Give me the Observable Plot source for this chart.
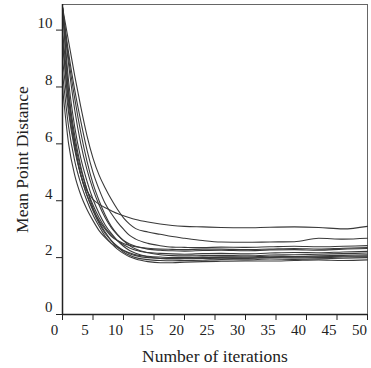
<!DOCTYPE html>
<html>
<head>
<meta charset="utf-8">
<script src="https://cdn.jsdelivr.net/npm/d3@7"></script>
<script src="https://cdn.jsdelivr.net/npm/@observablehq/plot@0.6"></script>
<style>
  html, body { margin: 0; padding: 0; background: #fff; }
</style>
</head>
<body>
<div id="chart"></div>
<script>
const iterations = [0, 1, 2, 3, 4, 5, 6, 7, 8, 9, 10, 11, 12, 14, 16, 18, 20, 23, 26, 30, 34, 38, 42, 46, 50];

const runA = [10.8, 7.8, 6.0, 4.9, 4.35, 4.05, 3.88, 3.75, 3.65, 3.55, 3.47, 3.40, 3.34, 3.25, 3.18, 3.13, 3.10, 3.08, 3.06, 3.05, 3.07, 3.08, 3.06, 3.01, 3.10];
const runB = [10.8, 9.6, 8.4, 7.3, 6.3, 5.5, 4.9, 4.45, 4.05, 3.7, 3.4, 3.18, 3.02, 2.9, 2.82, 2.74, 2.68, 2.60, 2.55, 2.54, 2.55, 2.56, 2.68, 2.65, 2.68];
const runC = [10.8, 9.2, 7.9, 6.8, 5.8, 5.0, 4.4, 3.9, 3.55, 3.25, 3.0, 2.78, 2.65, 2.5, 2.42, 2.37, 2.36, 2.35, 2.37, 2.36, 2.38, 2.40, 2.38, 2.40, 2.42];
const runD = [8.0, 6.0, 4.9, 4.2, 3.7, 3.3, 2.95, 2.7, 2.5, 2.36, 2.25, 2.17, 2.1, 2.05, 2.02, 2.0, 2.0, 2.02, 2.03, 2.02, 2.05, 2.04, 2.06, 2.08, 2.1];
const runE = [8.5, 6.6, 5.4, 4.6, 4.0, 3.5, 3.1, 2.75, 2.5, 2.3, 2.15, 2.03, 1.95, 1.86, 1.82, 1.82, 1.84, 1.86, 1.87, 1.88, 1.88, 1.9, 1.92, 1.9, 1.92];
const runF = [9.5, 7.5, 6.1, 5.1, 4.4, 3.85, 3.4, 3.05, 2.8, 2.6, 2.45, 2.34, 2.26, 2.18, 2.15, 2.13, 2.12, 2.14, 2.15, 2.13, 2.16, 2.18, 2.17, 2.2, 2.22];
const runG = [10.8, 8.2, 6.6, 5.5, 4.7, 4.05, 3.55, 3.15, 2.85, 2.6, 2.4, 2.25, 2.15, 2.03, 1.97, 1.95, 1.96, 1.97, 1.98, 1.97, 2.0, 1.99, 2.0, 2.02, 2.03];
const runH = [10.8, 8.8, 7.2, 6.0, 5.1, 4.4, 3.85, 3.4, 3.05, 2.8, 2.6, 2.48, 2.4, 2.3, 2.26, 2.24, 2.23, 2.25, 2.26, 2.24, 2.27, 2.28, 2.26, 2.3, 2.32];
const runI = [10.0, 7.8, 6.3, 5.2, 4.4, 3.75, 3.25, 2.9, 2.6, 2.38, 2.2, 2.08, 2.0, 1.93, 1.9, 1.89, 1.9, 1.91, 1.93, 1.92, 1.95, 1.94, 1.96, 1.98, 2.0];
const runJ = [10.8, 9.0, 7.6, 6.4, 5.4, 4.6, 4.0, 3.5, 3.1, 2.82, 2.6, 2.42, 2.3, 2.17, 2.1, 2.07, 2.06, 2.07, 2.08, 2.06, 2.09, 2.1, 2.12, 2.14, 2.16];
const runK = [9.0, 7.1, 5.8, 4.9, 4.2, 3.7, 3.3, 3.0, 2.75, 2.6, 2.5, 2.43, 2.38, 2.33, 2.3, 2.29, 2.28, 2.3, 2.3, 2.28, 2.3, 2.32, 2.3, 2.33, 2.35];
const runL = [9.8, 7.3, 5.9, 4.9, 4.2, 3.65, 3.2, 2.85, 2.6, 2.4, 2.25, 2.14, 2.07, 2.0, 1.98, 1.97, 1.98, 2.0, 2.0, 1.99, 2.01, 2.02, 2.03, 2.05, 2.06];

const xTicks = [0, 5, 10, 15, 20, 25, 30, 35, 40, 45, 50];
const yTicks = [0, 2, 4, 6, 8, 10];
const xLabel = "Number of iterations";
const yLabel = "Mean Point Distance";

const runs = {A: runA, B: runB, C: runC, D: runD, E: runE, F: runF, G: runG, H: runH, I: runI, J: runJ, K: runK, L: runL};
const rows = [];
for (const [name, vals] of Object.entries(runs)) {
  vals.forEach((v, i) => rows.push({run: name, iter: iterations[i], value: v}));
}

const chart = Plot.plot({
  width: 371,
  height: 368,
  marginLeft: 62,
  marginRight: 4,
  marginTop: 4,
  marginBottom: 54,
  style: {fontFamily: "'Liberation Serif', 'DejaVu Serif', serif", fontSize: "15px", color: "#222", background: "#fff"},
  x: {domain: [0, 50]},
  y: {domain: [0, 10.9]},
  marks: [
    Plot.frame({stroke: "#666", strokeWidth: 1}),
    Plot.line(rows, {x: "iter", y: "value", z: "run", stroke: "#3a3a3a", strokeWidth: 1.1, curve: "monotone-x"}),
    Plot.ruleX([0], {stroke: "#222", strokeWidth: 1.5}),
    Plot.ruleY([0], {stroke: "#222", strokeWidth: 1.5}),
    // tick marks only
    Plot.axisX({ticks: xTicks, tickSize: 6, tickFormat: () => "", label: null, stroke: "#222"}),
    Plot.axisY({ticks: yTicks, tickSize: 6, tickFormat: () => "", label: null, stroke: "#222"}),
    // tick labels only, offset like the reference
    Plot.axisX({ticks: xTicks, tickSize: 0, tickPadding: 10, dx: -8, label: null, fontSize: 15, fill: "#222"}),
    Plot.axisY({ticks: yTicks, tickSize: 0, tickPadding: 10, dy: -7, label: null, fontSize: 15, fill: "#222"}),
    Plot.text([xLabel], {text: d => d, frameAnchor: "bottom", dy: 47, fontSize: 17.5, fill: "#222"}),
    Plot.text([yLabel], {text: d => d, frameAnchor: "left", textAnchor: "middle", rotate: -90, dx: -40, fontSize: 17.5, fill: "#222"})
  ]
});
document.getElementById("chart").appendChild(chart);
</script>
</body>
</html>
